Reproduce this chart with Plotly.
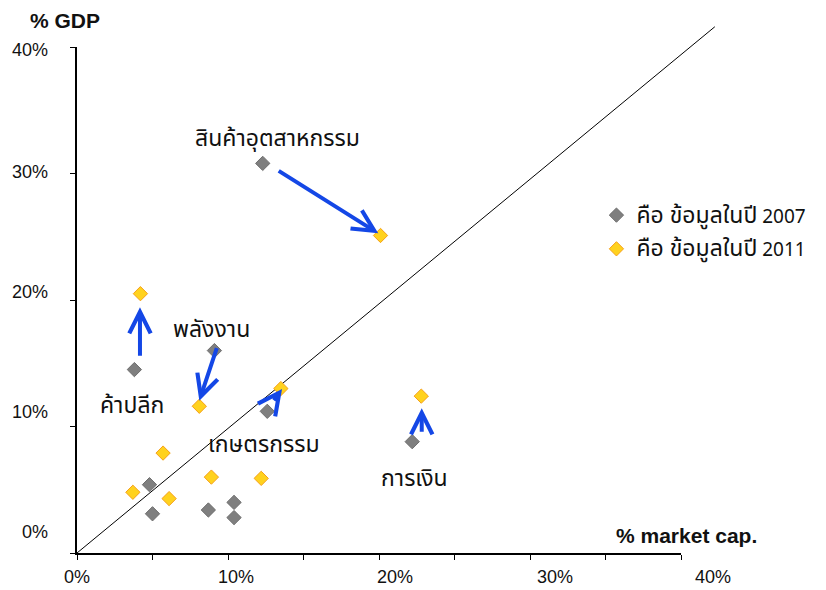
import plotly.graph_objects as go

# Sector weight: share of market capitalisation (x) vs share of GDP (y), in %
x_2007 = [12.3, 3.8, 9.1, 12.6, 22.2, 4.8, 5.0, 8.7, 10.4, 10.4]
y_2007 = [30.8, 14.5, 16.0, 11.2, 8.8, 5.4, 3.1, 3.4, 4.0, 2.8]
x_2011 = [20.1, 4.2, 8.1, 13.5, 22.8, 5.7, 3.7, 6.1, 8.9, 12.2]
y_2011 = [25.1, 20.5, 11.6, 13.0, 12.4, 7.9, 4.8, 4.3, 6.0, 5.9]

legend_prefix = "คือ ข้อมูลในปี"
legend_years = ["2007", "2011"]

# Sector names and where they are written
sector_names = ["สินค้าอุตสาหกรรม", "พลังงาน", "ค้าปลีก", "เกษตรกรรม", "การเงิน"]
label_x = [13.25, 8.94, 3.64, 12.38, 22.38]
label_y = [32.7, 17.6, 11.6, 8.5, 5.85]

# Arrows showing the move from 2007 to 2011 (tail -> head)
arrow_from_x = [13.26, 4.17, 9.29, 12.96, 22.83]
arrow_from_y = [30.28, 15.47, 16.31, 11.96, 9.46]
arrow_to_x = [19.95, 4.17, 8.10, 13.58, 22.83]
arrow_to_y = [25.27, 19.42, 12.04, 12.96, 11.44]

# Axis ticks and labels
x_tick_marks = [0, 5, 10, 15, 20, 25, 30, 35, 40]
x_tick_labels = ["0%", "10%", "20%", "30%", "40%"]
x_label_vals = [0, 10, 20, 30, 40]
y_tick_vals = [0, 10, 20, 30, 40]
y_tick_labels = ["0%", "10%", "20%", "30%", "40%"]

LATIN = "Liberation Sans, Arial, sans-serif"
THAI = "Noto Sans Thai, Liberation Sans, sans-serif"
TICK_FONT = dict(family=LATIN, size=18, color="#111111")
THAI_FONT = dict(family=THAI, size=23, color="#111111")
BLUE = "#1447E6"


def legend_name(year):
    return f'<span style="font-size:23px">{legend_prefix}</span> {year}'


fig = go.Figure()

fig.add_trace(go.Scatter(
    x=x_2007, y=y_2007, mode="markers", name=legend_name(legend_years[0]),
    legendgroup="a",
    marker=dict(symbol="diamond", size=11, color="#7F7F7F",
                line=dict(color="#6E6E6E", width=1)),
))
fig.add_trace(go.Scatter(
    x=x_2011, y=y_2011, mode="markers", name=legend_name(legend_years[1]),
    legendgroup="b",
    marker=dict(symbol="diamond", size=11, color="#FFD21E",
                line=dict(color="#F5A01A", width=1)),
))

annotations = []

# Movement arrows
for x0, y0, x1, y1 in zip(arrow_from_x, arrow_from_y, arrow_to_x, arrow_to_y):
    annotations.append(dict(
        x=x1, y=y1, ax=x0, ay=y0, xref="x", yref="y", axref="x", ayref="y",
        text="", showarrow=True, arrowhead=5, arrowsize=1.05, arrowwidth=4,
        arrowcolor=BLUE, standoff=0, startstandoff=0,
    ))

# Sector names
for name, lx, ly in zip(sector_names, label_x, label_y):
    annotations.append(dict(
        x=lx, y=ly, xref="x", yref="y", text=name, showarrow=False,
        font=THAI_FONT, xanchor="center", yanchor="middle",
    ))

# Tick labels (offset from their tick marks as in the printed chart)
x_shift = [0, 8, 16, 25, 32]
for v, t, s in zip(x_label_vals, x_tick_labels, x_shift):
    annotations.append(dict(
        x=v, y=0, xref="x", yref="paper", text=t, showarrow=False,
        font=TICK_FONT, xanchor="center", yanchor="middle",
        xshift=s, yshift=-24,
    ))
y_shift = [21, 15, 8, 2, -3]
for v, t, s in zip(y_tick_vals, y_tick_labels, y_shift):
    annotations.append(dict(
        x=0, y=v, xref="paper", yref="y", text=t, showarrow=False,
        font=TICK_FONT, xanchor="right", yanchor="middle",
        xshift=-27, yshift=s,
    ))

# Axis titles
TITLE_FONT = dict(family=LATIN, size=21, color="#111111")
annotations.append(dict(
    x=0, y=1, xref="paper", yref="paper", text="<b>% GDP</b>", showarrow=False,
    font=TITLE_FONT, xanchor="center", yanchor="middle", xshift=-12, yshift=27,
))
annotations.append(dict(
    x=1, y=0, xref="paper", yref="paper", text="<b>% market cap.</b>", showarrow=False,
    font=TITLE_FONT, xanchor="center", yanchor="middle", xshift=5, yshift=18,
))

fig.update_layout(
    width=826, height=590,
    margin=dict(l=77, r=145, t=47, b=37),
    paper_bgcolor="white", plot_bgcolor="white",
    showlegend=True,
    legend=dict(
        x=0.86, y=0.705, xanchor="left", yanchor="top",
        font=dict(family=THAI, size=19, color="#111111"),
        bgcolor="rgba(0,0,0,0)", tracegroupgap=6, itemsizing="trace",
    ),
    annotations=annotations,
    shapes=[dict(
        type="line", xref="paper", yref="paper", x0=0, y0=0, x1=1.056, y1=1.04,
        line=dict(color="black", width=1), layer="below",
    )],
    xaxis=dict(
        range=[0, 40], tickvals=x_tick_marks, showticklabels=False,
        ticks="outside", ticklen=5, tickwidth=1, tickcolor="black",
        showline=True, linewidth=2, linecolor="black",
        showgrid=False, zeroline=False,
    ),
    yaxis=dict(
        range=[0, 40], tickvals=y_tick_vals, showticklabels=False,
        ticks="outside", ticklen=5, tickwidth=1, tickcolor="black",
        showline=True, linewidth=2, linecolor="black",
        showgrid=False, zeroline=False,
    ),
)

fig.write_html("out.html")
